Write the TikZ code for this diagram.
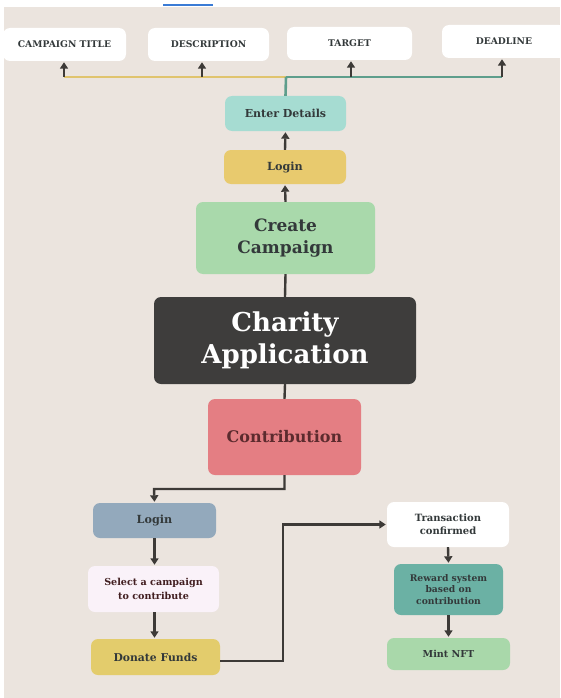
\documentclass[tikz,border=0pt]{standalone}
\usepackage{fontspec}
\setmainfont{DejaVu Serif}
\usetikzlibrary{arrows.meta}
\definecolor{bg}{HTML}{EBE4DE}
\definecolor{ink}{HTML}{3D3A37}
\definecolor{txt}{HTML}{33393A}
\definecolor{cyel}{HTML}{E0C46E}
\definecolor{cgrn}{HTML}{5E9E8C}
\definecolor{centr}{HTML}{A6DCD2}
\definecolor{clog}{HTML}{E8CA6E}
\definecolor{ccre}{HTML}{A9D9AB}
\definecolor{cchar}{HTML}{3E3D3C}
\definecolor{ccon}{HTML}{E47E83}
\definecolor{ccontxt}{HTML}{5C2B2E}
\definecolor{clog2}{HTML}{93A9BC}
\definecolor{csel}{HTML}{FAF2F9}
\definecolor{cdon}{HTML}{E3CC6C}
\definecolor{crew}{HTML}{6BB1A4}
\definecolor{cmint}{HTML}{A9D8AA}
\definecolor{cblue}{HTML}{3A7BD5}
\tikzset{
  box/.style={rounded corners=7pt, inner sep=0pt, align=center, text=txt, font=\bfseries},
  toplabel/.style={box, fill=white, minimum height=33pt, font=\bfseries\fontsize{9.2}{11}\selectfont},
  link/.style={draw=ink, line width=2.4pt},
  arr/.style={link, -{Triangle[width=8pt,length=6.5pt]}, shorten >=1pt}
}
\begin{document}
\begin{tikzpicture}[x=1pt,y=-1pt]
\fill[bg] (0,0) rectangle (560,698);
\fill[white] (0,0) rectangle (560,7);
\fill[white] (0,0) rectangle (4,698);
\fill[cblue] (163,4.5) rectangle (213,6.5);
\useasboundingbox (0,0) rectangle (560,698);

% top labels
\node[toplabel, minimum width=123pt] (title) at (64.5,44.5) {CAMPAIGN TITLE};
\node[toplabel, minimum width=121pt] (desc) at (208.5,44.5) {DESCRIPTION};
\node[toplabel, minimum width=125pt] (target) at (349.5,43.5) {TARGET};
\node[toplabel, minimum width=124pt] (dead) at (504,41.5) {DEADLINE};

\coordinate (a1) at (64,77);
\coordinate (a2) at (202,77);
\coordinate (a3) at (351,77);
\coordinate (a4) at (502,77);
\coordinate (j) at (286,77);

% central column
\node[box, fill=centr, minimum width=121pt, minimum height=35pt, font=\bfseries\fontsize{11}{13}\selectfont] (enter) at (285.5,113.5) {Enter Details};
\node[box, fill=clog, minimum width=122pt, minimum height=34pt, font=\bfseries\fontsize{11.2}{13}\selectfont] (login1) at (285,167) {Login};
\node[box, fill=ccre, minimum width=179pt, minimum height=72pt, font=\bfseries\fontsize{17}{22}\selectfont] (create) at (285.5,238) {Create\\Campaign};
\node[box, fill=cchar, text=white, minimum width=262pt, minimum height=87pt, font=\bfseries\fontsize{26}{32}\selectfont] (charity) at (285,340.5) {Charity\\Application};
\node[box, fill=ccon, text=ccontxt, minimum width=153pt, minimum height=76pt, font=\bfseries\fontsize{16}{18}\selectfont] (contrib) at (284.5,437) {Contribution};

% bottom left
\node[box, fill=clog2, minimum width=123pt, minimum height=35pt, font=\bfseries\fontsize{11.2}{13}\selectfont] (login2) at (154.5,520.5) {Login};
\node[box, fill=csel, text=ccontxt!70!black, minimum width=131pt, minimum height=46pt, font=\bfseries\fontsize{9.6}{14}\selectfont] (select) at (153.5,589) {Select a campaign\\to contribute};
\node[box, fill=cdon, minimum width=129pt, minimum height=36pt, font=\bfseries\fontsize{10.8}{13}\selectfont] (donate) at (155.5,657) {Donate Funds};

% bottom right
\node[box, fill=white, minimum width=122pt, minimum height=45pt, font=\bfseries\fontsize{10}{12.5}\selectfont] (trans) at (448,524.5) {Transaction\\confirmed};
\node[box, fill=crew, minimum width=109pt, minimum height=51pt, font=\bfseries\fontsize{9.2}{11.5}\selectfont] (reward) at (448.5,589.5) {Reward system\\based on\\contribution};
\node[box, fill=cmint, minimum width=123pt, minimum height=32pt, font=\bfseries\fontsize{9.6}{12}\selectfont] (mint) at (448.5,654) {Mint NFT};

% top connectors
\draw[line width=2.6pt, cyel] (a1) -- (j);
\draw[line width=2.6pt, cgrn] (j) -- (a4);
\draw[line width=2.6pt, cgrn] (enter.north) -- (j);
\draw[arr] (a1) -- (a1 |- title.south);
\draw[arr] (a2) -- (a2 |- desc.south);
\draw[arr] (a3) -- (a3 |- target.south);
\draw[arr] (a4) -- (a4 |- dead.south);

% central connectors
\draw[arr] (login1.north) -- (enter.south);
\draw[arr] (create.north) -- (login1.south);
\draw[link] (create.south) -- (charity.north);
\draw[link] (charity.south) -- (contrib.north);
\draw[arr] (contrib.south) |- (154,489) -- (login2.north);

% bottom left connectors
\draw[arr] (login2.south) -- (login2.south |- select.north);
\draw[arr] (select.south -| login2.south) -- (login2.south |- donate.north);
\draw[arr] ([yshift=-4pt]donate.east) -- ++(63,0) |- (trans.west);

% bottom right connectors
\draw[arr] (trans.south) -- (reward.north);
\draw[arr] (reward.south) -- (reward.south |- mint.north);
\end{tikzpicture}
\end{document}
